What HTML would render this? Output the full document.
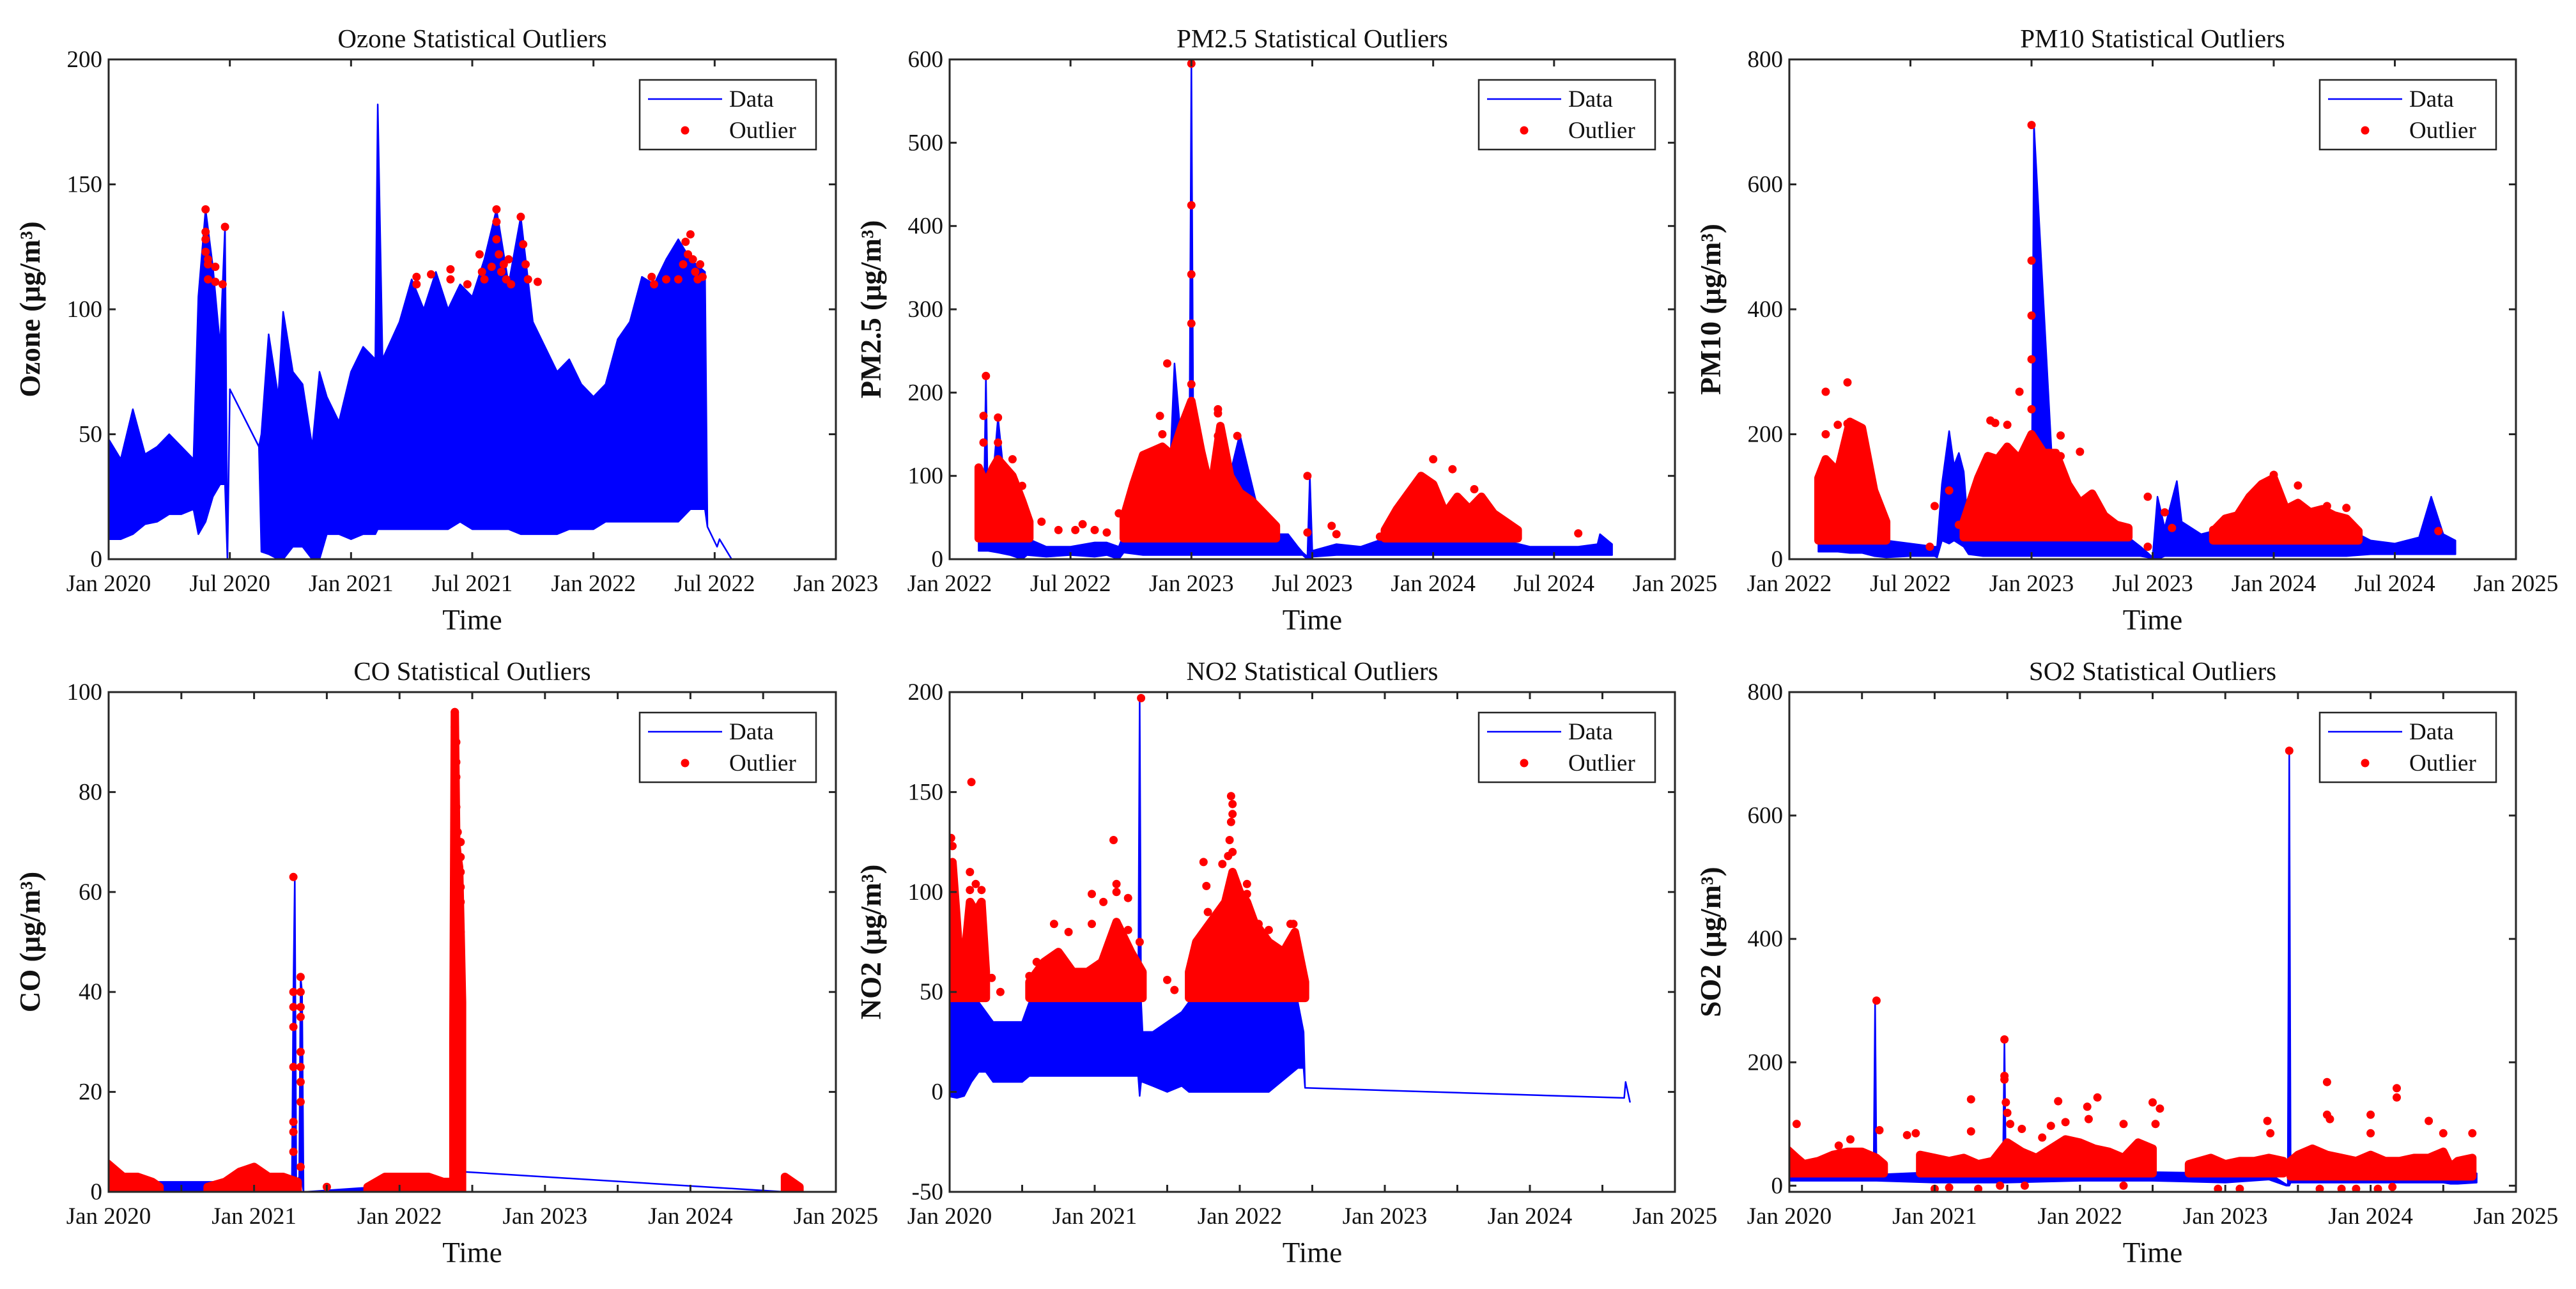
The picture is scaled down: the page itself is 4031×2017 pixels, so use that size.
<!DOCTYPE html>
<html><head><meta charset="utf-8">
<style>
html,body{margin:0;padding:0;background:#fff;}
svg{display:block;}
text{font-family:"Liberation Serif",serif;fill:#111;}
</style></head>
<body>
<svg id="fig" width="4031" height="2017" viewBox="0 0 4031 2017" xmlns="http://www.w3.org/2000/svg"></svg>
<script>
// ---------- Ozone ----------
const ozT=[2020.00,2020.05,2020.10,2020.15,2020.20,2020.25,2020.30,2020.35,2020.37,2020.40,2020.43,2020.46,2020.48,2020.49,2020.50,2020.62,2020.63,2020.66,2020.70,2020.72,2020.76,2020.80,2020.84,2020.87,2020.90,2020.95,2021.00,2021.05,2021.10,2021.11,2021.13,2021.20,2021.25,2021.30,2021.35,2021.40,2021.45,2021.50,2021.55,2021.60,2021.65,2021.70,2021.75,2021.80,2021.85,2021.90,2021.95,2022.00,2022.05,2022.10,2022.15,2022.20,2022.25,2022.30,2022.35,2022.40,2022.46,2022.47,2022.51,2022.52,2022.57];
const ozHi=[48,40,60,42,45,50,45,40,105,140,117,85,133,0,68,45,50,90,65,99,75,70,45,75,65,55,75,85,80,182,80,95,112,100,115,100,110,105,120,140,110,137,95,85,75,80,70,65,70,88,95,113,110,120,128,120,115,13,5,8,0];
const ozLo=[8,8,10,14,15,18,18,20,10,15,25,30,30,0,68,45,3,2,0,0,5,5,0,0,10,10,8,10,10,12,12,12,12,12,12,12,15,12,12,12,12,10,10,10,10,12,12,12,15,15,15,15,15,15,15,20,20,13,5,8,0];
const ozRT=[];const ozRHi=[];const ozRLo=[];
const ozOT=[2020.40,2020.40,2020.40,2020.40,2020.41,2020.41,2020.41,2020.44,2020.44,2020.48,2020.47,2021.27,2021.27,2021.33,2021.41,2021.41,2021.48,2021.53,2021.54,2021.55,2021.58,2021.60,2021.60,2021.60,2021.61,2021.62,2021.63,2021.64,2021.65,2021.66,2021.70,2021.71,2021.72,2021.73,2021.77,2022.24,2022.25,2022.30,2022.35,2022.37,2022.38,2022.39,2022.40,2022.41,2022.42,2022.43,2022.44,2022.45];
const ozOV=[140,131,128,123,120,118,112,117,111,133,110,113,110,114,116,112,110,122,115,112,117,140,135,128,122,115,118,112,120,110,137,126,118,112,111,113,110,112,112,118,127,122,130,120,115,112,118,113];

// ---------- PM2.5 ----------
const pm25T=[2022.12,2022.14,2022.15,2022.16,2022.20,2022.25,2022.30,2022.32,2022.40,2022.50,2022.60,2022.65,2022.70,2022.72,2022.80,2022.90,2022.93,2022.99,2023.00,2023.01,2023.10,2023.20,2023.30,2023.40,2023.44,2023.46,2023.48,2023.49,2023.50,2023.60,2023.70,2023.80,2023.90,2024.00,2024.10,2024.20,2024.30,2024.40,2024.50,2024.60,2024.68,2024.69,2024.74];
const pm25Hi=[30,30,220,30,170,28,30,25,15,15,20,20,15,30,30,30,235,30,595,30,30,150,30,30,15,8,3,100,10,18,15,25,28,28,28,28,22,15,15,15,18,30,18];
const pm25Lo=[10,10,10,10,8,5,0,5,3,5,3,5,0,8,5,5,5,5,5,5,5,5,5,5,5,5,0,0,3,5,5,5,5,5,5,5,5,5,5,5,5,5,5];
const pm25RT=[2022.12,2022.15,2022.18,2022.20,2022.23,2022.26,2022.30,2022.33,null,2022.72,2022.76,2022.80,2022.84,2022.88,2022.92,2022.96,2023.00,2023.04,2023.08,2023.12,2023.16,2023.20,2023.25,2023.30,2023.35,null,2023.80,2023.85,2023.90,2023.95,2024.00,2024.05,2024.10,2024.15,2024.20,2024.25,2024.30,2024.35];
const pm25RHi=[110,90,110,120,110,100,70,45,null,50,90,125,130,135,125,160,190,130,80,160,100,80,70,55,40,null,35,60,80,100,90,55,75,60,75,55,45,35];
const pm25RLo=[25,25,25,25,25,25,25,25,null,25,25,25,25,25,25,25,25,25,25,25,25,25,25,25,25,null,25,25,25,25,25,25,25,25,25,25,25,25];
const pm25OT=[2022.15,2022.14,2022.14,2022.20,2022.20,2022.26,2022.30,2022.30,2022.38,2022.45,2022.52,2022.55,2022.60,2022.65,2022.70,2022.90,2022.87,2022.88,2023.00,2023.00,2023.00,2023.00,2023.00,2023.11,2023.11,2023.11,2023.19,2023.25,2023.30,2023.48,2023.48,2023.58,2023.60,2023.78,2023.82,2024.00,2024.08,2024.17,2024.28,2024.60];
const pm25OV=[220,172,140,170,140,120,88,68,45,35,35,42,35,32,55,235,172,150,595,425,342,283,210,180,175,148,148,45,38,100,32,40,30,27,38,120,108,84,47,31];

// ---------- PM10 ----------
const pm10T=[2022.12,2022.20,2022.25,2022.30,2022.35,2022.40,2022.50,2022.60,2022.61,2022.63,2022.66,2022.68,2022.70,2022.72,2022.74,2022.80,2022.90,2023.00,2023.01,2023.10,2023.20,2023.30,2023.40,2023.45,2023.48,2023.50,2023.52,2023.55,2023.60,2023.62,2023.70,2023.80,2023.90,2024.00,2024.10,2024.20,2024.30,2024.40,2024.50,2024.60,2024.65,2024.70,2024.75];
const pm10Hi=[40,45,40,45,40,30,25,20,20,120,205,150,170,140,40,35,40,40,695,45,40,40,35,20,10,3,100,50,125,60,40,50,95,40,45,40,50,30,25,35,100,40,30];
const pm10Lo=[12,12,10,10,5,3,5,5,3,30,25,30,25,20,8,5,5,5,5,5,5,5,5,5,3,0,0,5,5,5,5,5,5,5,5,5,5,8,8,8,8,8,8];
const pm10RT=[2022.12,2022.15,2022.20,2022.25,2022.30,2022.35,2022.40,null,2022.72,2022.78,2022.82,2022.86,2022.90,2022.95,2023.00,2023.05,2023.10,2023.15,2023.20,2023.25,2023.30,2023.35,2023.40,null,2023.75,2023.80,2023.85,2023.90,2023.95,2024.00,2024.05,2024.10,2024.15,2024.20,2024.25,2024.30,2024.35];
const pm10RHi=[130,160,140,220,210,110,60,null,60,130,165,160,180,160,200,170,170,120,90,105,70,55,50,null,45,65,70,100,120,130,80,90,75,80,70,65,45];
const pm10RLo=[30,30,30,30,30,30,30,null,35,35,35,35,35,35,35,35,35,35,35,35,35,35,35,null,30,30,30,30,30,30,30,30,30,30,30,30,30];
const pm10OT=[2022.15,2022.15,2022.20,2022.24,2022.24,2022.24,2022.58,2022.60,2022.66,2022.70,2022.75,2022.85,2022.85,2022.83,2022.85,2022.90,2022.95,2023.00,2023.00,2023.00,2023.00,2023.00,2023.12,2023.12,2023.20,2023.27,2023.30,2023.48,2023.48,2023.55,2023.58,2023.75,2023.85,2024.00,2024.10,2024.22,2024.30,2024.35,2024.68];
const pm10OV=[268,200,215,283,217,195,20,85,110,55,62,68,60,222,218,215,268,695,478,390,320,240,198,165,172,50,48,100,20,75,50,47,70,135,118,85,82,40,45];

// ---------- CO ----------
const coT=[2019.98,2021.26,2021.27,2021.28,2021.29,2021.31,2021.32,2021.33,2021.34,2021.35,2022.35,2022.37,2022.38,2022.39,2022.40,2022.41,2022.42,2022.43,2022.45,2024.65,2024.66,2024.75];
const coHi=[2,2,40,63,2,3,43,40,0,0,2,96,90,80,40,70,50,20,4,0,3,1];
const coLo=[0,0,2,2,0,0,2,2,0,0,0,2,5,2,2,2,2,2,4,0,0,0];
const coRT=[2019.98,2020.10,2020.20,2020.30,2020.35,null,2020.68,2020.80,2020.90,2021.00,2021.10,2021.20,2021.30,null,2021.78,2021.90,2022.00,2022.10,2022.20,2022.30,2022.35,null,2022.37,2022.38,2022.39,2022.40,2022.41,2022.42,2022.43,null,2024.65,2024.70,2024.75];
const coRHi=[6,3,3,2,1,null,1,2,4,5,3,3,2,null,1,3,3,3,3,2,2,null,30,96,70,67,65,52,38,null,3,2,1];
const coRLo=[0,0,0,0,0,null,0,0,0,0,0,0,0,null,0,0,0,0,0,0,0,null,0,0,0,0,0,0,0,null,0,0,0];
const coOT=[2021.27,2021.27,2021.27,2021.27,2021.27,2021.27,2021.27,2021.27,2021.32,2021.32,2021.32,2021.32,2021.32,2021.32,2021.32,2021.32,2021.32,2021.50,2022.38,2022.38,2022.38,2022.39,2022.39,2022.39,2022.39,2022.40,2022.42,2022.42,2022.42,2022.42,2022.42,2022.42,2022.42,2022.42,2022.38,2022.38,2022.38,2022.38];
const coOV=[63,40,37,33,25,14,12,8,43,40,37,35,28,25,22,18,5,1,96,93,88,90,86,83,77,72,70,67,64,61,58,52,47,38,55,51,41,34];

// ---------- NO2 ----------
const no2T=[2019.98,2020.05,2020.10,2020.15,2020.20,2020.25,2020.30,2020.40,2020.50,2020.55,2020.70,2020.90,2021.10,2021.30,2021.31,2021.32,2021.33,2021.40,2021.50,2021.60,2021.65,2021.80,2022.00,2022.20,2022.40,2022.44,2022.45,2024.65,2024.66,2024.69];
const no2Hi=[45,45,45,45,45,40,35,35,35,45,45,45,45,45,197,45,30,30,35,40,45,45,45,45,45,30,2,-3,5,-5];
const no2Lo=[-2,-3,-2,5,10,10,5,5,5,8,8,8,8,8,-2,5,5,3,0,3,0,0,0,0,12,12,2,-3,5,-5];
const no2RT=[2019.98,2020.02,2020.06,2020.10,2020.14,2020.18,2020.22,2020.25,null,2020.55,2020.65,2020.75,2020.85,2020.95,2021.05,2021.15,2021.25,2021.33,null,2021.65,2021.70,2021.80,2021.90,2021.95,2022.00,2022.05,2022.10,2022.20,2022.30,2022.38,2022.45];
const no2RHi=[80,115,75,65,95,90,95,60,null,55,65,70,60,60,65,85,70,60,null,60,75,85,95,110,100,95,85,75,70,80,55];
const no2RLo=[47,47,47,47,47,47,47,47,null,47,47,47,47,47,47,47,47,47,null,47,47,47,47,47,47,47,47,47,47,47,47];
const no2OT=[2020.01,2020.02,2020.02,2020.03,2020.15,2020.14,2020.14,2020.18,2020.22,2020.22,2020.29,2020.35,2020.55,2020.60,2020.72,2020.82,2020.98,2020.98,2021.06,2021.13,2021.15,2021.15,2021.23,2021.23,2021.32,2021.31,2021.50,2021.55,2021.75,2021.77,2021.78,2021.88,2021.92,2021.94,2021.95,2021.95,2021.94,2021.93,2021.95,2022.05,2022.05,2022.13,2022.20,2022.35,2022.37];
const no2OV=[127,123,112,99,155,110,101,104,101,95,57,50,58,65,84,80,99,84,95,126,104,100,97,81,197,75,56,51,115,103,90,114,118,148,144,139,135,126,120,104,99,84,81,84,84];

// ---------- SO2 ----------
const so2T=[2019.98,2020.50,2020.58,2020.59,2020.60,2021.00,2021.47,2021.48,2021.49,2022.00,2022.50,2023.00,2023.30,2023.42,2023.43,2023.44,2023.45,2023.50,2024.00,2024.50,2024.55,2024.60,2024.73];
const so2Hi=[25,18,18,300,18,22,25,237,25,25,22,20,20,2,2,705,15,25,25,25,15,22,20];
const so2Lo=[8,8,8,8,8,5,5,5,5,8,8,5,10,0,0,0,5,5,5,5,3,3,5];
const so2RT=[2019.98,2020.05,2020.10,2020.20,2020.30,2020.40,2020.50,2020.60,2020.65,null,2020.90,2021.00,2021.10,2021.20,2021.30,2021.40,2021.50,2021.60,2021.70,2021.80,2021.90,2022.00,2022.10,2022.20,2022.30,2022.40,2022.50,null,2022.75,2022.90,2023.00,2023.10,2023.20,2023.30,2023.40,null,2023.45,2023.50,2023.60,2023.70,2023.80,2023.90,2024.00,2024.10,2024.20,2024.30,2024.40,2024.50,2024.55,2024.60,2024.70];
const so2RHi=[60,45,35,40,50,55,55,45,35,null,50,45,40,45,35,40,70,55,45,60,75,70,60,55,45,70,60,null,35,45,35,40,40,45,40,null,40,50,60,50,45,40,50,40,40,45,45,55,30,40,45];
const so2RLo=[20,20,20,20,20,20,20,20,20,null,20,20,20,20,20,20,20,20,20,20,20,20,20,20,20,20,20,null,20,20,20,20,20,20,20,null,15,15,15,15,15,15,15,15,15,15,15,15,15,15,15];
const so2OT=[2020.05,2020.34,2020.42,2020.60,2020.62,2020.81,2020.87,2021.25,2021.25,2021.48,2021.48,2021.48,2021.49,2021.50,2021.52,2021.60,2021.74,2021.80,2021.85,2021.90,2022.05,2022.06,2022.12,2022.30,2022.50,2022.55,2022.52,2023.29,2023.31,2023.44,2023.70,2023.70,2023.72,2024.00,2024.00,2024.18,2024.18,2024.40,2024.50,2024.70,2021.00,2021.10,2021.30,2021.45,2021.62,2022.30,2022.95,2023.10,2023.65,2023.80,2023.90,2024.05,2024.15];
const so2OV=[100,65,75,300,90,82,85,140,88,237,178,172,135,118,100,92,78,97,137,103,128,108,143,100,135,125,100,105,85,705,168,115,108,115,85,158,143,105,85,85,-5,-3,-5,0,0,0,-5,-5,-5,-5,-5,-5,-2];

// tick arrays
const yTicksOz=[0,50,100,150,200];
const yTicksPm25=[0,100,200,300,400,500,600];
const yTicksPm10=[0,200,400,600,800];
const yTicksCo=[0,20,40,60,80,100];
const yTicksNo2=[-50,0,50,100,150,200];
const yTicksSo2=[0,200,400,600,800];
const xTicks2020=[2020,2020.5,2021,2021.5,2022,2022.5,2023];
const xLabels2020=["Jan 2020","Jul 2020","Jan 2021","Jul 2021","Jan 2022","Jul 2022","Jan 2023"];
const xTicks2022=[2022,2022.5,2023,2023.5,2024,2024.5,2025];
const xLabels2022=["Jan 2022","Jul 2022","Jan 2023","Jul 2023","Jan 2024","Jul 2024","Jan 2025"];
const xTicks5y=[2020,2020.5,2021,2021.5,2022,2022.5,2023,2023.5,2024,2024.5,2025];
const xLabels5y=["Jan 2020","","Jan 2021","","Jan 2022","","Jan 2023","","Jan 2024","","Jan 2025"];

const NS="http://www.w3.org/2000/svg";
const svg=document.getElementById('fig');
function mk(tag,attrs,parent){const e=document.createElementNS(NS,tag);for(const k in attrs)e.setAttribute(k,attrs[k]);(parent||svg).appendChild(e);return e;}

const panels=[
 {key:'ozone',title:'Ozone Statistical Outliers',ylab:'Ozone (μg/m³)',L:170,R:1308,T:93,B:875,x0:2020,x1:2023,y0:0,y1:200,yt:yTicksOz,xt:xTicks2020,xl:xLabels2020,t:ozT,hi:ozHi,lo:ozLo,rt:ozRT,rhi:ozRHi,rlo:ozRLo,ot:ozOT,ov:ozOV},
 {key:'pm25',title:'PM2.5 Statistical Outliers',ylab:'PM2.5 (μg/m³)',L:1486,R:2621,T:93,B:875,x0:2022,x1:2025,y0:0,y1:600,yt:yTicksPm25,xt:xTicks2022,xl:xLabels2022,t:pm25T,hi:pm25Hi,lo:pm25Lo,rt:pm25RT,rhi:pm25RHi,rlo:pm25RLo,ot:pm25OT,ov:pm25OV},
 {key:'pm10',title:'PM10 Statistical Outliers',ylab:'PM10 (μg/m³)',L:2800,R:3937,T:93,B:875,x0:2022,x1:2025,y0:0,y1:800,yt:yTicksPm10,xt:xTicks2022,xl:xLabels2022,t:pm10T,hi:pm10Hi,lo:pm10Lo,rt:pm10RT,rhi:pm10RHi,rlo:pm10RLo,ot:pm10OT,ov:pm10OV},
 {key:'co',title:'CO Statistical Outliers',ylab:'CO (μg/m³)',L:170,R:1308,T:1083,B:1865,x0:2020,x1:2025,y0:0,y1:100,yt:yTicksCo,xt:xTicks5y,xl:xLabels5y,t:coT,hi:coHi,lo:coLo,rt:coRT,rhi:coRHi,rlo:coRLo,ot:coOT,ov:coOV},
 {key:'no2',title:'NO2 Statistical Outliers',ylab:'NO2 (μg/m³)',L:1486,R:2621,T:1083,B:1865,x0:2020,x1:2025,y0:-50,y1:200,yt:yTicksNo2,xt:xTicks5y,xl:xLabels5y,t:no2T,hi:no2Hi,lo:no2Lo,rt:no2RT,rhi:no2RHi,rlo:no2RLo,ot:no2OT,ov:no2OV},
 {key:'so2',title:'SO2 Statistical Outliers',ylab:'SO2 (μg/m³)',L:2800,R:3937,T:1083,B:1865,x0:2020,x1:2025,y0:-10,y1:800,yt:yTicksSo2,xt:xTicks5y,xl:xLabels5y,t:so2T,hi:so2Hi,lo:so2Lo,rt:so2RT,rhi:so2RHi,rlo:so2RLo,ot:so2OT,ov:so2OV}
];

panels.forEach(p=>{
  const g=mk('g',{});
  
  
  const X=v=>p.L+(v-p.x0)/(p.x1-p.x0)*(p.R-p.L);
  const Y=v=>p.B-(v-p.y0)/(p.y1-p.y0)*(p.B-p.T);
  const cx=(p.L+p.R)/2;
  const clipId='clip-'+p.key;
  const cp=mk('clipPath',{id:clipId},g);
  mk('rect',{x:p.L,y:p.T,width:p.R-p.L,height:p.B-p.T},cp);
  const plot=mk('g',{'clip-path':'url(#'+clipId+')'},g);
  // data band
  let up='',dn='';
  for(let i=0;i<p.t.length;i++){up+=X(p.t[i]).toFixed(1)+','+Y(p.hi[i]).toFixed(1)+' ';}
  for(let i=p.t.length-1;i>=0;i--){dn+=X(p.t[i]).toFixed(1)+','+Y(p.lo[i]).toFixed(1)+' ';}
  const band=mk('polygon',{points:up+dn,fill:'#0000ff',stroke:'#0000ff','stroke-width':2.5,'stroke-linejoin':'round'},plot);
  
  
  // red dense outlier regions
  let seg=[];
  const flush=()=>{
    if(seg.length){
      let a='',b='';
      seg.forEach(i=>{a+=X(p.rt[i]).toFixed(1)+','+Y(p.rhi[i]).toFixed(1)+' ';});
      for(let k=seg.length-1;k>=0;k--){const i=seg[k];b+=X(p.rt[i]).toFixed(1)+','+Y(p.rlo[i]).toFixed(1)+' ';}
      const r=mk('polygon',{points:a+b,fill:'#ff0000',stroke:'#ff0000','stroke-width':13,'stroke-linejoin':'round'},plot);
      
      
    }
    seg=[];
  };
  for(let i=0;i<p.rt.length;i++){if(p.rt[i]===null)flush();else seg.push(i);}
  flush();
  // individual outliers
  for(let i=0;i<p.ot.length;i++){
    const c=mk('circle',{cx:X(p.ot[i]).toFixed(1),cy:Y(p.ov[i]).toFixed(1),r:6.5,fill:'#ff0000'},plot);
    
    
  }
  // axes box
  const box=mk('rect',{x:p.L,y:p.T,width:p.R-p.L,height:p.B-p.T,fill:'none',stroke:'#262626','stroke-width':3},g);
  
  
  // y ticks
  p.yt.forEach(v=>{
    const y=Y(v);
    mk('line',{x1:p.L,x2:p.L+11,y1:y,y2:y,stroke:'#262626','stroke-width':3},g);
    mk('line',{x1:p.R,x2:p.R-11,y1:y,y2:y,stroke:'#262626','stroke-width':3},g);
    const t=mk('text',{x:p.L-10,y:y+12,'text-anchor':'end','font-size':37},g);
    t.textContent=String(v);
    
    
  });
  // x ticks
  p.xt.forEach((v,i)=>{
    const x=X(v);
    mk('line',{x1:x,x2:x,y1:p.B,y2:p.B-11,stroke:'#262626','stroke-width':3},g);
    mk('line',{x1:x,x2:x,y1:p.T,y2:p.T+11,stroke:'#262626','stroke-width':3},g);
    if(p.xl[i]){
      const t=mk('text',{x:x,y:p.B+50,'text-anchor':'middle','font-size':37},g);
      t.textContent=p.xl[i];
      
      
    }
  });
  // title
  const tt=mk('text',{x:cx,y:p.T-19,'text-anchor':'middle','font-size':41},g);
  tt.textContent=p.title;
  
  
  // x label
  const xl=mk('text',{x:cx,y:p.B+110,'text-anchor':'middle','font-size':45},g);
  xl.textContent='Time';
  
  
  // y label
  const ly=(p.T+p.B)/2, lx=p.L-108;
  const yl=mk('text',{x:lx,y:ly,'text-anchor':'middle','font-size':45,'font-weight':'bold',transform:'rotate(-90 '+lx+' '+ly+')'},g);
  yl.textContent=p.ylab;
  
  
  // legend
  const lgR=p.R-31, lgW=276, lgT=p.T+32, lgH=109, lgL=lgR-lgW;
  const lg=mk('g',{},g);
  
  
  mk('rect',{x:lgL,y:lgT,width:lgW,height:lgH,fill:'#fff',stroke:'#262626','stroke-width':2.5},lg);
  const e1=mk('g',{},lg);
  
  
  mk('line',{x1:lgL+13,x2:lgL+129,y1:lgT+30,y2:lgT+30,stroke:'#0000ff','stroke-width':2.5},e1);
  const d1=mk('text',{x:lgL+140,y:lgT+42,'font-size':37},e1);d1.textContent='Data';
  const e2=mk('g',{},lg);
  
  
  mk('circle',{cx:lgL+71,cy:lgT+79,r:6.5,fill:'#ff0000'},e2);
  const d2=mk('text',{x:lgL+140,y:lgT+91,'font-size':37},e2);d2.textContent='Outlier';
});
</script>
</body></html>
